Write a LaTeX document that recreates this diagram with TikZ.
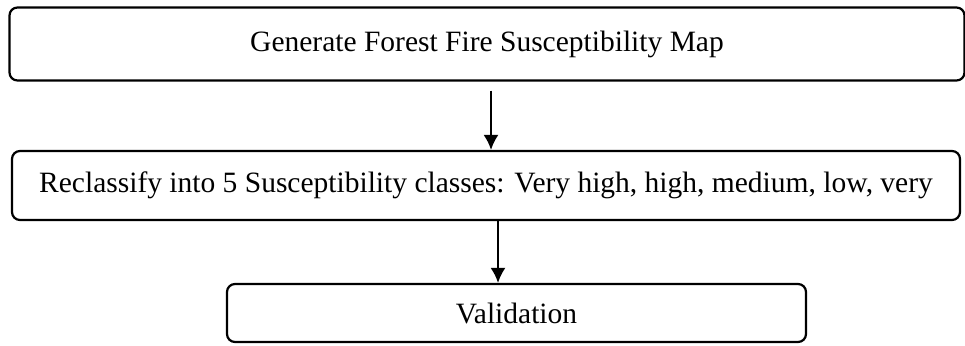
\documentclass[tikz,border=0pt]{standalone}
\usepackage{fontspec}
\setmainfont{Liberation Serif}
\usetikzlibrary{arrows.meta,positioning}
\tikzset{font=\fontsize{29.5}{34}\selectfont}
\tikzset{stepbox/.style={draw, line width=2.2pt, rounded corners=8pt,
    inner sep=0pt, align=center}}
\tikzset{flowarrow/.style={-{Latex[length=15pt,width=15pt]}, line width=2pt}}

\begin{document}
\begin{tikzpicture}[x=1pt,y=-1pt]
  \useasboundingbox (0,0) rectangle (965,345);

  \node[stepbox, minimum width=955pt, minimum height=73pt]
    (genmap) at (487,44) {Generate Forest Fire Susceptibility Map};
  \node[stepbox, minimum width=948pt, minimum height=69pt]
    (reclass) at (486,185.5) {Reclassify into 5 Susceptibility classes: Very high, high, medium, low, very};
  \node[stepbox, minimum width=579pt, minimum height=58pt]
    (valid) at (516.5,313) {Validation};

  \draw[flowarrow, shorten <=9pt] ([xshift=4pt]genmap.south)
    -- ([xshift=4pt]genmap.south |- reclass.north);
  \draw[flowarrow] ([xshift=12pt]reclass.south)
    -- ([xshift=12pt]reclass.south |- valid.north);
\end{tikzpicture}
\end{document}
